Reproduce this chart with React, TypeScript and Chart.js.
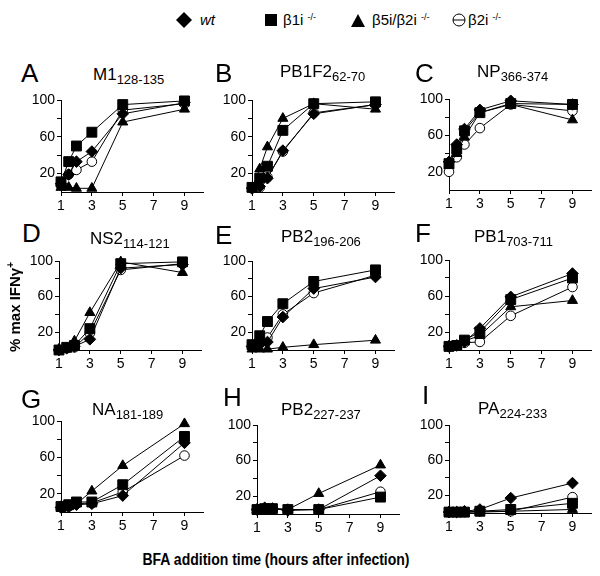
import React, { useEffect, useRef } from 'react';
import { Chart, registerables } from 'chart.js';

Chart.register(...registerables);

const FONT = "'Liberation Sans', Arial, Helvetica, sans-serif";

// ---- data ----
const HOURS = [1, 1.5, 2, 3, 5, 9];
const X_TICKS = [1, 3, 5, 7, 9];
const Y_TICKS = [20, 40, 60, 80, 100];
const Y_LABELS = [20, 60, 100];
const SERIES = ['wt', 'β1i', 'β5i/β2i', 'β2i'];

// A: M1 128-135
const M1_wt = [9, 19, 33, 44, 85, 97];
const M1_b1i = [11, 33, 50, 65, 95, 99];
const M1_b5b2 = [5, 5, 4, 4, 76, 90];
const M1_b2i = [7, 19, 24, 33, 89, 96];
// B: PB1F2 62-70
const PB1F2_wt = [4, 6, 15, 45, 85, 95];
const PB1F2_b1i = [5, 15, 28, 67, 96, 98];
const PB1F2_b5b2 = [4, 25, 49, 80, 96, 90];
const PB1F2_b2i = [4, 5, 16, 44, 86, 95];
// C: NP 366-374
const NP_wt = [31, 50, 67, 88, 98, 94];
const NP_b1i = [29, 45, 65, 85, 95, 94];
const NP_b5b2 = [27, 40, 58, 85, 94, 77];
const NP_b2i = [20, 36, 50, 68, 94, 87];
// D: NS2 114-121
const NS2_wt = [0, 2, 4, 12, 92, 96];
const NS2_b1i = [0, 3, 5, 24, 97, 99];
const NS2_b5b2 = [1, 2, 10, 42, 99, 87];
const NS2_b2i = [0, 2, 3, 19, 90, 97];
// E: PB2 196-206
const PB2a_wt = [4, 6, 9, 37, 69, 82];
const PB2a_b1i = [6, 16, 32, 52, 77, 90];
const PB2a_b5b2 = [1, 1, 1, 3, 6, 11];
const PB2a_b2i = [4, 8, 14, 40, 64, 84];
// F: PB1 703-711
const PB1_wt = [4, 5, 9, 24, 59, 85];
const PB1_b1i = [4, 5, 11, 20, 56, 80];
const PB1_b5b2 = [4, 5, 10, 16, 48, 55];
const PB1_b2i = [4, 5, 8, 9, 38, 70];
// G: NA 181-189
const NA_wt = [5, 6, 8, 9, 18, 76];
const NA_b1i = [6, 8, 11, 11, 30, 83];
const NA_b5b2 = [6, 7, 9, 23, 51, 97];
const NA_b2i = [5, 6, 9, 10, 22, 62];
// H: PB2 227-237
const PB2b_wt = [5, 7, 6, 4, 5, 43];
const PB2b_b1i = [5, 6, 6, 5, 5, 19];
const PB2b_b5b2 = [5, 6, 6, 5, 23, 55];
const PB2b_b2i = [5, 6, 6, 5, 5, 25];
// I: PA 224-233
const PA_wt = [1, 1, 2, 4, 17, 34];
const PA_b1i = [1, 1, 1, 2, 4, 11];
const PA_b5b2 = [1, 1, 1, 1, 2, 4];
const PA_b2i = [1, 1, 1, 2, 2, 18];

const PANELS = [
  { letter: 'A', name: 'M1', sub: '128-135', series: [M1_wt, M1_b1i, M1_b5b2, M1_b2i] },
  { letter: 'B', name: 'PB1F2', sub: '62-70', series: [PB1F2_wt, PB1F2_b1i, PB1F2_b5b2, PB1F2_b2i] },
  { letter: 'C', name: 'NP', sub: '366-374', series: [NP_wt, NP_b1i, NP_b5b2, NP_b2i] },
  { letter: 'D', name: 'NS2', sub: '114-121', series: [NS2_wt, NS2_b1i, NS2_b5b2, NS2_b2i] },
  { letter: 'E', name: 'PB2', sub: '196-206', series: [PB2a_wt, PB2a_b1i, PB2a_b5b2, PB2a_b2i] },
  { letter: 'F', name: 'PB1', sub: '703-711', series: [PB1_wt, PB1_b1i, PB1_b5b2, PB1_b2i] },
  { letter: 'G', name: 'NA', sub: '181-189', series: [NA_wt, NA_b1i, NA_b5b2, NA_b2i] },
  { letter: 'H', name: 'PB2', sub: '227-237', series: [PB2b_wt, PB2b_b1i, PB2b_b5b2, PB2b_b2i] },
  { letter: 'I', name: 'PA', sub: '224-233', series: [PA_wt, PA_b1i, PA_b5b2, PA_b2i] },
];

// ---- layout (page pixels) ----
const BOXES = [
  { l: 61, t: 100, b: 192 },
  { l: 252, t: 100, b: 192 },
  { l: 449, t: 99, b: 190 },
  { l: 59, t: 261, b: 350 },
  { l: 252, t: 261, b: 350 },
  { l: 449, t: 260, b: 350 },
  { l: 61, t: 421, b: 512 },
  { l: 257, t: 425, b: 514 },
  { l: 449, t: 425, b: 513 },
];
const LETTER_POS = [
  [21, 63], [215, 63], [415, 63],
  [22, 223], [215, 225], [415, 223],
  [21, 389], [223, 387], [422, 385],
];
const TITLE_POS = [
  [93, 68], [280, 65], [477, 65],
  [90, 232], [281, 230], [474, 230],
  [92, 403], [281, 403], [478, 402],
];
const BOX_W = 142;
const X_MAX = 10.2;
const YW = 45;
const XH = 26;
const PT = 12;
const PR = 10;

const STYLES = [
  { pointStyle: 'rectRot', r: 5.8, fill: '#000' },
  { pointStyle: 'rect', r: 7, fill: '#000' },
  { pointStyle: 'triangle', r: 5.8, fill: '#000' },
  { pointStyle: 'circle', r: 4.8, fill: '#fff' },
];

function Panel({ idx }: { idx: number }) {
  const ref = useRef<HTMLCanvasElement>(null);
  const box = BOXES[idx];
  const w = BOX_W + YW + PR;
  const h = box.b - box.t + PT + XH;
  useEffect(() => {
    const p = PANELS[idx];
    const order = [0, 1, 2, 3];
    const datasets = order.map((si) => {
      const st = STYLES[si];
      return {
        label: SERIES[si],
        data: HOURS.map((x, i) => ({ x, y: p.series[si][i] })),
        pointStyle: st.pointStyle as any,
        pointRadius: st.r,
        pointBackgroundColor: st.fill,
        pointBorderColor: '#000',
        pointBorderWidth: 1,
        borderColor: '#000',
        borderWidth: 1,
        backgroundColor: st.fill,
        showLine: true,
        fill: false,
        tension: 0,
        clip: false as any,
      };
    });
    const chart = new Chart(ref.current!, {
      type: 'scatter',
      data: { datasets },
      options: {
        animation: false,
        responsive: false,
        devicePixelRatio: 1,
        events: [],
        layout: { autoPadding: false, padding: { left: 0, top: PT, right: PR, bottom: 0 } },
        plugins: { legend: { display: false }, tooltip: { enabled: false } },
        scales: {
          x: {
            type: 'linear',
            min: 1,
            max: X_MAX,
            afterBuildTicks: (s: any) => {
              s.ticks = X_TICKS.map((v) => ({ value: v }));
            },
            afterFit: (s: any) => {
              s.height = XH;
            },
            grid: { display: true, drawOnChartArea: false, drawTicks: true, tickLength: 4, tickColor: '#000' },
            border: { display: true, color: '#000', width: 1 },
            ticks: { color: '#000', font: { family: FONT, size: 14 }, padding: 2, maxRotation: 0, autoSkip: false },
          },
          y: {
            type: 'linear',
            min: 0,
            max: 100,
            afterBuildTicks: (s: any) => {
              s.ticks = Y_TICKS.map((v) => ({ value: v }));
            },
            afterFit: (s: any) => {
              s.width = YW;
            },
            grid: { display: true, drawOnChartArea: false, drawTicks: true, tickLength: 4, tickColor: '#000' },
            border: { display: true, color: '#000', width: 1 },
            ticks: {
              color: '#000',
              font: { family: FONT, size: 14 },
              padding: 2,
              autoSkip: false,
              callback: (v: any) => (Y_LABELS.includes(Number(v)) ? String(v) : ''),
            },
          },
        },
      },
    });
    return () => chart.destroy();
  }, [idx]);
  return (
    <canvas
      ref={ref}
      width={w}
      height={h}
      style={{ position: 'absolute', left: box.l - YW, top: box.t - PT, width: w, height: h }}
    />
  );
}

function LegendMarker({ kind }: { kind: number }) {
  if (kind === 0)
    return (
      <svg width="16" height="16" style={{ position: 'absolute', left: 176, top: 12 }}>
        <polygon points="8,0 16,8 8,16 0,8" fill="#000" />
      </svg>
    );
  if (kind === 1)
    return (
      <svg width="12" height="12" style={{ position: 'absolute', left: 265, top: 14 }}>
        <rect x="0" y="0" width="12" height="12" fill="#000" />
      </svg>
    );
  if (kind === 2)
    return (
      <svg width="14" height="13" style={{ position: 'absolute', left: 351, top: 14 }}>
        <polygon points="7,0 14,13 0,13" fill="#000" />
      </svg>
    );
  return (
    <svg width="14" height="14" style={{ position: 'absolute', left: 452, top: 13 }}>
      <circle cx="7" cy="7" r="6" fill="#fff" stroke="#000" strokeWidth="1" />
      <line x1="1" y1="7" x2="13" y2="7" stroke="#000" strokeWidth="1" />
    </svg>
  );
}

const textBase: React.CSSProperties = {
  position: 'absolute',
  fontFamily: FONT,
  color: '#000',
  whiteSpace: 'nowrap',
  lineHeight: 1,
};

export default function App() {
  return (
    <div
      style={{
        position: 'absolute',
        left: 0,
        top: 0,
        width: 600,
        height: 576,
        background: '#fff',
        overflow: 'hidden',
      }}
    >
      {/* legend */}
      <LegendMarker kind={0} />
      <span style={{ ...textBase, left: 200, top: 12, fontSize: 15, fontStyle: 'italic' }}>wt</span>
      <LegendMarker kind={1} />
      <span style={{ ...textBase, left: 283, top: 12, fontSize: 15 }}>
        β1i <span style={{ fontSize: 9, verticalAlign: '5px' }}>-/-</span>
      </span>
      <LegendMarker kind={2} />
      <span style={{ ...textBase, left: 372, top: 12, fontSize: 15 }}>
        β5i/β2i <span style={{ fontSize: 9, verticalAlign: '5px' }}>-/-</span>
      </span>
      <LegendMarker kind={3} />
      <span style={{ ...textBase, left: 468, top: 12, fontSize: 15 }}>
        β2i <span style={{ fontSize: 9, verticalAlign: '5px' }}>-/-</span>
      </span>

      {PANELS.map((p, i) => (
        <React.Fragment key={p.letter}>
          <Panel idx={i} />
          <span style={{ ...textBase, left: LETTER_POS[i][0], top: LETTER_POS[i][1] - 3.4, fontSize: 26 }}>
            {p.letter}
          </span>
          <span style={{ ...textBase, left: TITLE_POS[i][0], top: TITLE_POS[i][1] - 2.2, fontSize: 17 }}>
            {p.name}
            <span style={{ fontSize: 13, verticalAlign: '-4px' }}>{p.sub}</span>
          </span>
        </React.Fragment>
      ))}

      {/* y axis title */}
      <div
        style={{
          ...textBase,
          left: 14,
          top: 307,
          fontSize: 15,
          fontWeight: 'bold',
          transform: 'translate(-50%, -50%) rotate(-90deg)',
        }}
      >
        % max IFNγ<span style={{ fontSize: 10, verticalAlign: '6px' }}>+</span>
      </div>

      {/* x axis title */}
      <div
        style={{
          ...textBase,
          left: 276,
          top: 560,
          fontSize: 16,
          fontWeight: 'bold',
          transform: 'translate(-50%, -50%) scaleX(0.875)',
        }}
      >
        BFA addition time (hours after infection)
      </div>
    </div>
  );
}
